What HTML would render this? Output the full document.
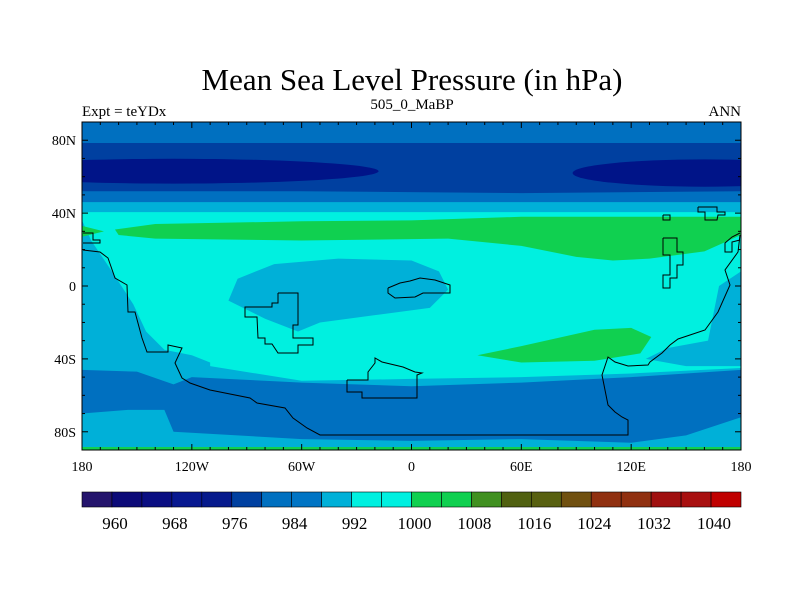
<!DOCTYPE html>
<html><head><meta charset="utf-8"><style>
body{margin:0;background:#fff}
svg text{font-family:"Liberation Serif",serif;fill:#000}
</style></head><body>
<svg id="chart" width="800" height="600" xmlns="http://www.w3.org/2000/svg">
<text x="412" y="90" font-size="31" text-anchor="middle">Mean Sea Level Pressure (in hPa)</text>
<text x="82" y="116" font-size="15">Expt = teYDx</text>
<text x="412" y="109" font-size="15" text-anchor="middle">505_0_MaBP</text>
<text x="741" y="116" font-size="15" text-anchor="end">ANN</text>
<defs><clipPath id="clip"><rect x="82" y="122" width="659" height="328"/></clipPath></defs>
<g id="map" clip-path="url(#clip)"></g>
<g id="coast" fill="none" stroke="#000" stroke-width="1"></g>
<rect x="82" y="122" width="659" height="328" fill="none" stroke="#000" stroke-width="1"/>
<g id="ticks" stroke="#000"></g>
<g id="labels"></g>
<g id="cbar"></g>
</svg>
<script>
const levels=[960,964,968,972,976,980,984,988,992,996,1000,1004,1008,1012,1016,1020,1024,1028,1032,1036,1040];
const levelColors=["#24146c","#0c0a78","#0a0e82","#081890","#061a8c","#0040a0","#0070c0","#0074c4","#00b0d8","#00f0e0","#00f0e0","#10d050","#10d050","#409020","#506010","#586010","#705010","#903010","#903010","#a01010","#a81010","#c00000"];
const cbarLabels=[960,968,976,984,992,1000,1008,1016,1024,1032,1040];
const lonTicks=[-180,-120,-60,0,60,120,180];
const lonTickLabels=["180","120W","60W","0","60E","120E","180"];
const latTicks=[80,40,0,-40,-80];
const latTickLabels=["80N","40N","0","40S","80S"];
const regionColors=["#0070c0","#0040a0","#00b0d8","#00f0e0","#10d050","#10d050","#00b0d8","#00b0d8","#00b0d8","#00b0d8","#0070c0","#10d050"];
const regions=[
 [[-180,90],[180,90],[180,41],[-180,41]],
 [[-180,78.5],[180,78.5],[180,52],[60,51],[-60,52],[-180,52]],
 [[-180,46],[180,46],[180,40.5],[-180,40.5]],
 [[-180,40.5],[180,40.5],[180,-45],[120,-48],[60,-50],[0,-51],[-60,-52],[-110,-44],[-180,-38]],
 [[-162,31],[-140,34],[-60,35.5],[0,36],[60,38],[120,38],[180,38],[180,28],[160,19],[130,15],[110,14],[90,16],[60,22],[20,26],[-60,25],[-140,26],[-160,28]],
 [[36,-38],[60,-33],[100,-24],[120,-23],[131,-28],[125,-37],[100,-41],[60,-42]],
 [[-100,-8],[-95,4],[-75,12],[-40,15],[0,14],[15,8],[20,-2],[10,-12],[-20,-16],[-50,-20],[-62,-25],[-80,-18]],
 [[-180,36],[-175,25],[-165,10],[-152,-10],[-145,-25],[-135,-35],[-120,-38],[-110,-42],[-110,-50],[-180,-50]],
 [[180,8],[168,0],[162,-30],[140,-34],[128,-40],[150,-44],[180,-44]],
 [[-180,-38],[-110,-44],[-60,-52],[0,-51],[60,-50],[120,-48],[180,-45],[180,-90],[-180,-90]],
 [[-180,-46],[-150,-47],[-130,-54],[-120,-50],[-60,-53],[0,-55],[60,-53],[120,-50],[180,-46],[180,-72],[150,-82],[120,-86],[60,-84],[0,-85],[-60,-84],[-130,-80],[-135,-68],[-155,-68],[-180,-70]],
 [[-180,33],[-168,30],[-180,27]]
];
const navyLows=[[-130,63,112,6.8],[160,62,72,7.5]];
const X=lon=>82+(lon+180)*659/360;
const Y=lat=>286-lat*328/180;
const NS="http://www.w3.org/2000/svg";
function mk(tag,attrs,parent){const e=document.createElementNS(NS,tag);for(const k in attrs)e.setAttribute(k,attrs[k]);parent.appendChild(e);return e;}
const map=document.getElementById('map');
const bg=mk('rect',{x:82,y:122,width:659,height:328,fill:"#00f0e0"},map);


regions.forEach((r,i)=>{
 const p=mk('polygon',{points:r.map(q=>X(q[0])+','+Y(q[1])).join(' '),fill:regionColors[i]},map);
 
 
});
navyLows.forEach((n,i)=>{
 const e=mk('ellipse',{cx:X(n[0]),cy:Y(n[1]),rx:n[2]*659/360,ry:n[3]*328/180,fill:"#001488"},map);
 
 
});
const strip=mk('rect',{x:82,y:447,width:659,height:3,fill:"#10d050"},map);


const z=pts=>pts.map(p=>p.join(',')).join(' ');
const coasts=[
 [[83,250],[100,252],[108,258],[115,278],[127,285],[128,312],[135,312],[142,338],[147,352],[168,352],[168,345],[182,348],[175,363],[182,378],[190,383],[210,390],[250,398],[257,403],[285,408],[293,418],[307,428],[320,435],[628,435],[628,420],[622,417],[615,412],[608,405],[602,375],[608,357],[615,362],[628,366],[648,365],[650,362],[662,353],[670,345],[678,339],[690,335],[705,330],[718,312],[730,285],[725,270],[738,252],[740,235]],
 [[347,380],[368,380],[368,372],[375,363],[375,358],[382,362],[403,367],[415,372],[422,373],[417,375],[417,398],[362,398],[362,392],[347,392],[347,380]],
 [[278,293],[278,303],[272,303],[272,307],[245,307],[245,317],[257,317],[258,338],[265,338],[265,344],[272,344],[278,353],[298,353],[298,345],[313,345],[313,338],[293,338],[293,325],[298,325],[298,293],[278,293]],
 [[388,288],[400,283],[410,281],[420,278],[435,280],[450,285],[450,293],[423,293],[415,297],[395,298],[388,293],[388,288]],
 [[663,238],[677,238],[677,252],[683,252],[683,265],[677,265],[677,278],[670,278],[670,288],[663,288],[663,275],[670,275],[670,255],[663,255],[663,238]],
 [[663,215],[670,215],[670,220],[663,220],[663,215]],
 [[698,207],[717,207],[717,212],[725,212],[725,215],[718,215],[717,220],[705,220],[705,212],[698,212],[698,207]],
 [[740,233],[732,237],[725,243],[725,252],[732,252],[732,242],[740,240]],
 [[83,233],[93,233],[93,240],[100,240],[100,243],[83,243]]
];
const cg=document.getElementById('coast');
coasts.forEach((c,i)=>{const l=mk('polyline',{points:z(c)},cg);
 
 });
const tg=document.getElementById('ticks'),lg=document.getElementById('labels');
for(let lon=-180;lon<=180;lon+=10){const maj=lonTicks.includes(lon);const L=maj?6:3;
 mk('line',{x1:X(lon),x2:X(lon),y1:450,y2:450-L},tg);mk('line',{x1:X(lon),x2:X(lon),y1:122,y2:122+L},tg);}
for(let lat=-90;lat<=90;lat+=10){const maj=latTicks.includes(lat);const L=maj?6:3;
 mk('line',{x1:82,x2:82+L,y1:Y(lat),y2:Y(lat)},tg);mk('line',{x1:741,x2:741-L,y1:Y(lat),y2:Y(lat)},tg);}
lonTicks.forEach((lon,i)=>{const t=mk('text',{x:X(lon),y:471,'font-size':14,'text-anchor':'middle'},lg);t.textContent=lonTickLabels[i];
 });
latTicks.forEach((lat,i)=>{const t=mk('text',{x:76,y:Y(lat)+5,'font-size':14,'text-anchor':'end'},lg);t.textContent=latTickLabels[i];
 });
const cb=document.getElementById('cbar');const n=levelColors.length;const bw=659/n;
levelColors.forEach((c,i)=>{const r=mk('rect',{x:82+i*bw,y:492,width:bw,height:15,fill:c,stroke:'#000','stroke-width':0.6},cb);
 });
cbarLabels.forEach(v=>{const i=levels.indexOf(v);const t=mk('text',{x:82+(i+1)*bw+3,y:529,'font-size':17,'text-anchor':'middle'},cb);t.textContent=v;
 });
</script>
</body></html>
